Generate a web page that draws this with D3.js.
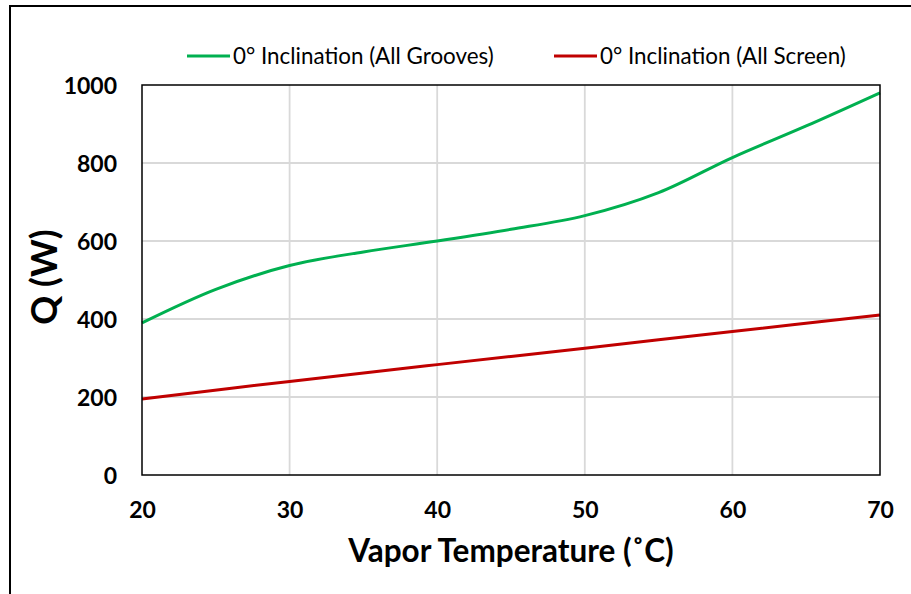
<!DOCTYPE html>
<html><head><meta charset="utf-8">
<script src="https://cdn.jsdelivr.net/npm/d3@7"></script>
<style>body{margin:0;background:#fff}svg{display:block}</style>
</head><body>
<svg id="c" width="911" height="594"></svg>
<script>
const temps = [20,25,30,35,40,45,50,55,60,65,70];
const grooves = [390,476,537,572,600,630,665,724,814,895,980];
const screenT = [20,30,40,50,60,70];
const screenQ = [195,240,283,325,368,410];
const xTicks = [20,30,40,50,60,70];
const yTicks = [0,200,400,600,800,1000];
const seriesNames = ["0° Inclination (All Grooves)","0° Inclination (All Screen)"];
const colors = ["#00B050","#C00000"];

const svg = d3.select("#c");
const F = "Lato, 'Open Sans', sans-serif";
const L=142,R=880,T=85,B=475;
const x = d3.scaleLinear().domain([20,70]).range([L,R]);
const y = d3.scaleLinear().domain([0,1000]).range([B,T]);

svg.append("rect").attr("x",10).attr("y",6).attr("width",1000).attr("height",1000)
  .attr("fill","none").attr("stroke","#000").attr("stroke-width",2);

svg.append("g").selectAll("line").data(xTicks.slice(1,-1)).join("line")
  .attr("x1",d=>x(d)).attr("x2",d=>x(d)).attr("y1",T).attr("y2",B)
  .attr("stroke","#d9d9d9").attr("stroke-width",1.8);
svg.append("g").selectAll("line").data(yTicks.slice(1,-1)).join("line")
  .attr("y1",d=>y(d)).attr("y2",d=>y(d)).attr("x1",L).attr("x2",R)
  .attr("stroke","#d9d9d9").attr("stroke-width",1.8);

const xa = svg.append("g").attr("transform",`translate(0,${B})`)
  .call(d3.axisBottom(x).tickValues(xTicks).tickFormat(d3.format("d")).tickSize(0));
const ya = svg.append("g").attr("transform",`translate(${L},0)`)
  .call(d3.axisLeft(y).tickValues(yTicks).tickFormat(d3.format("d")).tickSize(0).tickPadding(25));
[xa,ya].forEach(a=>{a.select(".domain").remove();
  a.selectAll("text").attr("font-family",F).attr("font-weight","bold").attr("font-size",23).attr("fill","#000");});
xa.selectAll("text").attr("dy",null).attr("y",43);
ya.selectAll("text").attr("dy","0.36em");

const line = d3.line().x(d=>x(d[0])).y(d=>y(d[1])).curve(d3.curveCatmullRom);
svg.append("path").datum(temps.map((t,i)=>[t,grooves[i]])).attr("d",line)
  .attr("fill","none").attr("stroke",colors[0]).attr("stroke-width",3);
svg.append("path").datum(screenT.map((t,i)=>[t,screenQ[i]])).attr("d",line)
  .attr("fill","none").attr("stroke",colors[1]).attr("stroke-width",3);

svg.append("rect").attr("x",L).attr("y",T).attr("width",R-L).attr("height",B-T)
  .attr("fill","none").attr("stroke","#000").attr("stroke-width",1.5);

svg.append("text").attr("x",511).attr("y",562).attr("text-anchor","middle")
  .attr("font-family",F).attr("font-weight","bold").attr("font-size",31.5).text("Vapor Temperature (˚C)");
svg.append("text").attr("transform","translate(57,277) rotate(-90)").attr("text-anchor","middle")
  .attr("font-family",F).attr("font-weight","bold").attr("font-size",36).text("Q (W)");

const lx=[187,554];
seriesNames.forEach((n,i)=>{
  svg.append("line").attr("x1",lx[i]).attr("x2",lx[i]+43).attr("y1",56).attr("y2",56)
    .attr("stroke",colors[i]).attr("stroke-width",3);
  svg.append("text").attr("x",lx[i]+46).attr("y",64).attr("font-family",F).attr("font-size",22.4)
    .attr("fill","#000").text(n);
});
</script>
</body></html>
